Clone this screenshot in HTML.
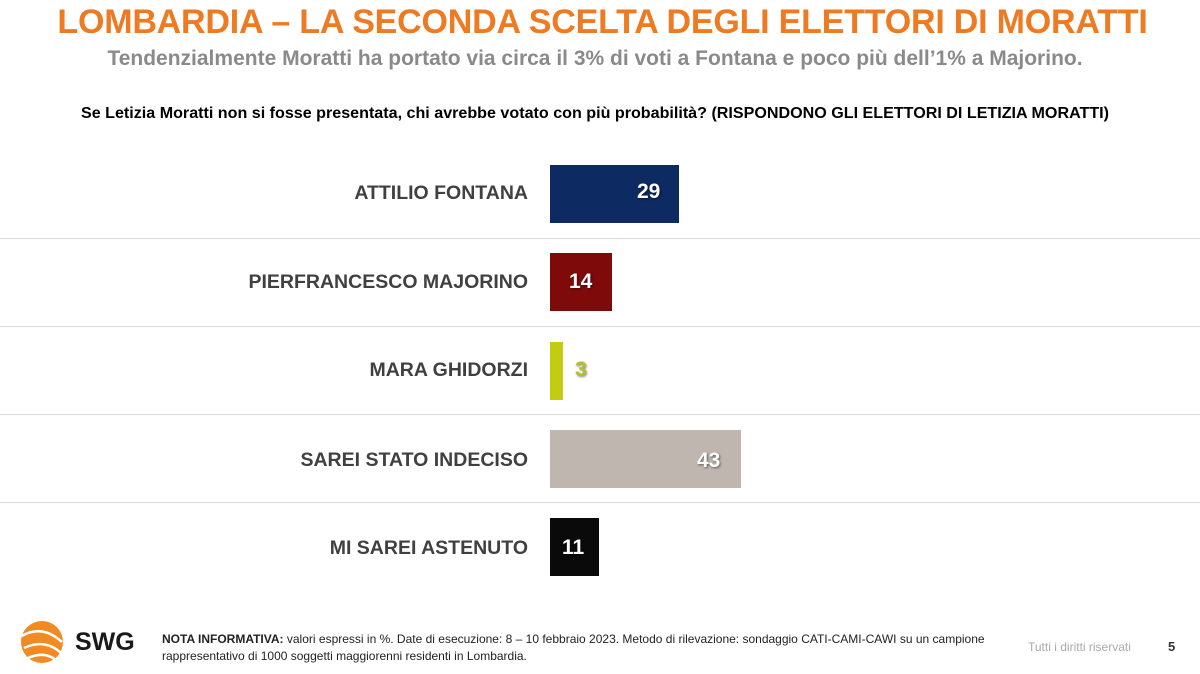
<!DOCTYPE html>
<html><head><meta charset="utf-8"><style>
body{margin:0;width:1200px;height:674px;background:#fff;font-family:"Liberation Sans",sans-serif;position:relative;overflow:hidden}
.a{position:absolute;white-space:nowrap}
.t{left:0;width:1205px;text-align:center;top:3px;font-size:34px;font-weight:bold;color:#ee7a22;letter-spacing:-0.2px}
.s{left:0;width:1190px;text-align:center;top:47px;font-size:21px;font-weight:bold;color:#8a8a8a}
.q{left:0;width:1190px;text-align:center;top:104px;font-size:16.1px;font-weight:bold;color:#000}
.l{right:672px;font-size:19.5px;font-weight:bold;color:#404040}
.b{left:550px;height:58px}
.v{font-size:21px;font-weight:bold;color:#fff;text-shadow:1px 1px 2px rgba(0,0,0,.5)}
.sep{left:0;width:1200px;height:1px;background:#dcdcdc}
</style></head><body>
<div class="a t">LOMBARDIA – LA SECONDA SCELTA DEGLI ELETTORI DI MORATTI</div>
<div class="a s">Tendenzialmente Moratti ha portato via circa il 3% di voti a Fontana e poco più dell’1% a Majorino.</div>
<div class="a q">Se Letizia Moratti non si fosse presentata, chi avrebbe votato con più probabilità? (RISPONDONO GLI ELETTORI DI LETIZIA MORATTI)</div>

<div class="a l" style="top:182px">ATTILIO FONTANA</div>
<div class="a b" style="top:165px;width:129px;background:#0d2a63"></div>
<div class="a v" style="top:180px;left:637px">29</div>
<div class="a sep" style="top:238px"></div>

<div class="a l" style="top:271px">PIERFRANCESCO MAJORINO</div>
<div class="a b" style="top:253px;width:62px;background:#7e0a0a"></div>
<div class="a v" style="top:270px;left:569px">14</div>
<div class="a sep" style="top:326px"></div>

<div class="a l" style="top:359px">MARA GHIDORZI</div>
<div class="a b" style="top:342px;width:13px;background:#c3cc10"></div>
<div class="a v" style="top:358px;left:575px;color:#b8c020">3</div>
<div class="a sep" style="top:414px"></div>

<div class="a l" style="top:449px">SAREI STATO INDECISO</div>
<div class="a b" style="top:430px;width:191px;background:#c0b6b0"></div>
<div class="a v" style="top:449px;left:697px">43</div>
<div class="a sep" style="top:502px"></div>

<div class="a l" style="top:537px">MI SAREI ASTENUTO</div>
<div class="a b" style="top:518px;width:49px;background:#0a0a0a"></div>
<div class="a v" style="top:536px;left:562px">11</div>

<svg class="a" style="left:16px;top:618px" width="54" height="48"><circle cx="26" cy="24" r="21" fill="#f08a24"/><path d="M6 18 Q26 6 46 24 M8 30 Q30 20 46 36 M12 40 Q30 32 42 44" stroke="#fff" stroke-width="2.5" fill="none"/></svg>
<div class="a" style="left:75px;top:628px;font-size:25px;font-weight:bold;color:#1a1a1a">SWG</div>
<div class="a" style="left:162px;top:631px;font-size:12px;color:#222;line-height:17px"><b>NOTA INFORMATIVA:</b> valori espressi in %. Date di esecuzione: 8 – 10 febbraio 2023. Metodo di rilevazione: sondaggio CATI-CAMI-CAWI su un campione<br>rappresentativo di 1000 soggetti maggiorenni residenti in Lombardia.</div>
<div class="a" style="left:1028px;top:640px;font-size:12px;color:#aaa">Tutti i diritti riservati</div>
<div class="a" style="left:1168px;top:639px;font-size:13px;font-weight:bold;color:#333">5</div>
</body></html>
